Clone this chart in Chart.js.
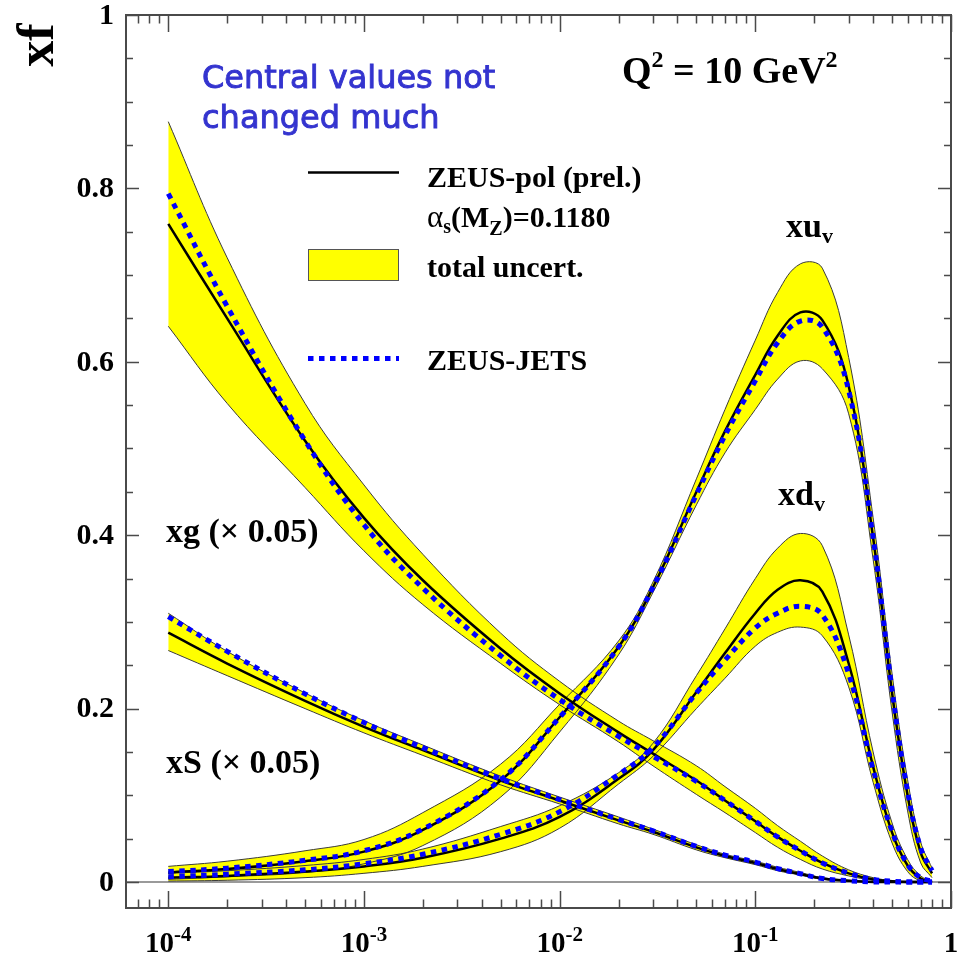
<!DOCTYPE html>
<html>
<head>
<meta charset="utf-8">
<script src="https://cdn.jsdelivr.net/npm/chart.js@4/dist/chart.umd.min.js"></script>
<style>
  html, body { margin: 0; padding: 0; background: #fff; }
  canvas { display: block; }
</style>
</head>
<body>
<canvas id="pdfChart" width="964" height="957"></canvas>
<script>
// x values shared by every curve
const xPoints = [1e-4, 2e-4, 5e-4, 1e-3, 2e-3, 5e-3, 1e-2, 2e-2, 3e-2, 5e-2, 7e-2,
                 0.1, 0.13, 0.17, 0.22, 0.3, 0.4, 0.5, 0.6, 0.7, 0.8];

// xu_v
const uvCentral = [0.011, 0.015, 0.024, 0.035, 0.060, 0.117, 0.190, 0.271, 0.340, 0.450, 0.520,
                   0.585, 0.630, 0.657, 0.648, 0.572, 0.397, 0.218, 0.100, 0.034, 0.010];
const uvUpper   = [0.018, 0.024, 0.036, 0.049, 0.080, 0.136, 0.205, 0.278, 0.346, 0.465, 0.545,
                   0.625, 0.680, 0.713, 0.708, 0.605, 0.420, 0.240, 0.118, 0.046, 0.016];
const uvLower   = [0.003, 0.006, 0.011, 0.021, 0.042, 0.098, 0.173, 0.262, 0.334, 0.435, 0.495,
                   0.545, 0.580, 0.601, 0.592, 0.540, 0.372, 0.196, 0.082, 0.022, 0.005];
const uvJets    = [0.012, 0.016, 0.025, 0.036, 0.061, 0.118, 0.190, 0.271, 0.340, 0.447, 0.515,
                   0.578, 0.622, 0.647, 0.640, 0.567, 0.397, 0.221, 0.104, 0.039, 0.013];

// xd_v
const dvCentral = [0.005, 0.007, 0.012, 0.018, 0.028, 0.050, 0.075, 0.119, 0.152, 0.219, 0.264,
                   0.310, 0.337, 0.348, 0.335, 0.252, 0.133, 0.057, 0.019, 0.004, 0.000];
const dvUpper   = [0.010, 0.013, 0.019, 0.026, 0.038, 0.064, 0.088, 0.126, 0.160, 0.238, 0.292,
                   0.350, 0.385, 0.402, 0.388, 0.285, 0.150, 0.068, 0.026, 0.007, 0.001];
const dvLower   = [0.001, 0.002, 0.005, 0.010, 0.018, 0.035, 0.062, 0.113, 0.145, 0.200, 0.235,
                   0.272, 0.288, 0.294, 0.284, 0.225, 0.115, 0.045, 0.012, 0.001, 0.000];
const dvJets    = [0.006, 0.009, 0.014, 0.021, 0.032, 0.055, 0.081, 0.124, 0.155, 0.218, 0.256,
                   0.293, 0.310, 0.318, 0.308, 0.240, 0.130, 0.058, 0.020, 0.005, 0.001];

// xg, scaled by 0.05
const gCentral = [0.759, 0.650, 0.509, 0.420, 0.348, 0.269, 0.2175, 0.1726, 0.148, 0.117, 0.094,
                  0.070, 0.052, 0.036, 0.022, 0.010, 0.003, 0.001, 0, 0, 0];
const gUpper   = [0.877, 0.720, 0.552, 0.458, 0.378, 0.287, 0.2315, 0.1856, 0.163, 0.134, 0.110,
                  0.085, 0.065, 0.047, 0.030, 0.014, 0.005, 0.0015, 0, 0, 0];
const gLower   = [0.641, 0.552, 0.455, 0.382, 0.320, 0.252, 0.2045, 0.1616, 0.134, 0.101, 0.080,
                  0.057, 0.040, 0.026, 0.015, 0.007, 0.002, 0.0005, 0, 0, 0];
const gJets    = [0.794, 0.664, 0.509, 0.412, 0.339, 0.261, 0.2105, 0.168, 0.145, 0.116, 0.094,
                  0.070, 0.052, 0.036, 0.022, 0.010, 0.003, 0.001, 0, 0, 0];

// xS, scaled by 0.05
const sCentral = [0.2875, 0.252, 0.209, 0.179, 0.152, 0.117, 0.094, 0.071, 0.058, 0.040, 0.030,
                  0.022, 0.015, 0.009, 0.004, 0.0015, 0, 0, 0, 0, 0];
const sUpper   = [0.310, 0.266, 0.218, 0.186, 0.158, 0.122, 0.098, 0.075, 0.061, 0.043, 0.032,
                  0.024, 0.017, 0.011, 0.005, 0.002, 0.0003, 0, 0, 0, 0];
const sLower   = [0.267, 0.238, 0.200, 0.172, 0.146, 0.112, 0.090, 0.067, 0.055, 0.037, 0.028,
                  0.020, 0.013, 0.008, 0.003, 0.001, 0, 0, 0, 0, 0];
const sJets    = [0.306, 0.266, 0.217, 0.184, 0.155, 0.119, 0.095, 0.072, 0.059, 0.041, 0.031,
                  0.023, 0.0155, 0.0095, 0.004, 0.0015, 0, 0, 0, 0, 0];

// axis ticks
const yTickValues = [0, 0.2, 0.4, 0.6, 0.8, 1];
const yTickLabels = ['0', '0.2', '0.4', '0.6', '0.8', '1'];
const yMinorStep = 0.05;
const xTickValues = [1e-4, 1e-3, 1e-2, 1e-1, 1];
const xTickLabels = [['10', '-4'], ['10', '-3'], ['10', '-2'], ['10', '-1'], ['1', '']];

const YELLOW = '#ffff00';
const EDGE = '#3a3a3a';
const FRAME = '#4a4a4a';
const BLUE = '#0000ff';
const SMOOTH = 0.4;

const serifB = s => 'bold ' + s + 'px "Liberation Serif", "Times New Roman", serif';
const serif = s => s + 'px "Liberation Serif", "Times New Roman", serif';

function toPoints(ys) {
    return xPoints.map((x, i) => ({ x: x, y: ys[i] }));
}

function band(upper, lower) {
    const common = { pointRadius: 0, borderColor: EDGE, borderWidth: 1, tension: SMOOTH, order: 3 };
    return [
        Object.assign({ data: toPoints(upper), fill: '+1', backgroundColor: YELLOW }, common),
        Object.assign({ data: toPoints(lower), fill: false }, common)
    ];
}

function central(ys) {
    return { data: toPoints(ys), fill: false, pointRadius: 0, borderColor: '#000',
             borderWidth: 2.5, tension: SMOOTH, order: 2 };
}

function jets(ys) {
    return { data: toPoints(ys), fill: false, pointRadius: 0, borderColor: BLUE,
             borderWidth: 5, borderDash: [5.5, 5.5], borderCapStyle: 'butt',
             tension: SMOOTH, order: 1 };
}

// draws a run of text pieces: [text, font, dy]
function drawRich(ctx, parts, x, y, align) {
    let total = 0;
    const widths = parts.map(p => { ctx.font = p[1]; const w = ctx.measureText(p[0]).width; total += w; return w; });
    let cx = align === 'center' ? x - total / 2 : (align === 'right' ? x - total : x);
    ctx.textAlign = 'left';
    parts.forEach((p, i) => {
        ctx.font = p[1];
        ctx.fillText(p[0], cx, y + (p[2] || 0));
        cx += widths[i];
    });
}

const zeroLine = {
    id: 'zeroLine',
    beforeDraw(chart) {
        const { ctx, chartArea, scales } = chart;
        const y0 = scales.y.getPixelForValue(0);
        ctx.save();
        ctx.strokeStyle = '#9a9a9a';
        ctx.lineWidth = 2;
        ctx.beginPath();
        ctx.moveTo(chartArea.left, y0);
        ctx.lineTo(chartArea.right, y0);
        ctx.stroke();
        ctx.restore();
    }
};

const frameAndText = {
    id: 'frameAndText',
    afterDraw(chart) {
        const { ctx, chartArea: a, scales } = chart;
        const xs = scales.x, ys = scales.y;
        ctx.save();

        // frame
        ctx.strokeStyle = FRAME;
        ctx.lineWidth = 2;
        ctx.strokeRect(a.left, a.top, a.right - a.left, a.bottom - a.top);

        // y ticks on both sides
        ctx.lineWidth = 1.5;
        ctx.beginPath();
        for (let v = 0; v <= 1.0001; v += yMinorStep) {
            const major = yTickValues.some(t => Math.abs(t - v) < 1e-6);
            const len = major ? 13 : 7;
            const py = Math.round(ys.getPixelForValue(v)) + 0.5;
            ctx.moveTo(a.left, py); ctx.lineTo(a.left + len, py);
            ctx.moveTo(a.right, py); ctx.lineTo(a.right - len, py);
        }
        // x ticks on top and bottom
        for (let e = -5; e <= 0; e++) {
            for (let m = 1; m <= 9; m++) {
                const v = m * Math.pow(10, e);
                if (v < xs.min * 0.999 || v > xs.max * 1.001) continue;
                const len = m === 1 ? 17 : 8.5;
                const px = Math.round(xs.getPixelForValue(v)) + 0.5;
                ctx.moveTo(px, a.bottom); ctx.lineTo(px, a.bottom - len);
                ctx.moveTo(px, a.top); ctx.lineTo(px, a.top + len);
            }
        }
        ctx.stroke();

        // tick labels
        ctx.fillStyle = '#000';
        ctx.textBaseline = 'middle';
        ctx.textAlign = 'right';
        ctx.font = serifB(30);
        yTickValues.forEach((v, i) => {
            ctx.fillText(yTickLabels[i], 114, ys.getPixelForValue(v) + 1);
        });
        ctx.textBaseline = 'alphabetic';
        xTickValues.forEach((v, i) => {
            const lab = xTickLabels[i];
            const parts = [[lab[0], serifB(29), 0]];
            if (lab[1]) parts.push([lab[1], serifB(21), -11]);
            drawRich(ctx, parts, xs.getPixelForValue(v), 952, 'center');
        });

        // axis title
        ctx.save();
        ctx.translate(53, 45);
        ctx.rotate(-Math.PI / 2);
        ctx.textAlign = 'center';
        ctx.font = serifB(52);
        ctx.fillText('xf', 0, 0);
        ctx.restore();

        // note in blue
        ctx.fillStyle = '#3434cf';
        ctx.strokeStyle = '#3434cf';
        ctx.lineWidth = 0.9;
        ctx.textAlign = 'left';
        ctx.font = '32px "DejaVu Sans", sans-serif';
        ctx.fillText('Central values not', 202, 88);
        ctx.strokeText('Central values not', 202, 88);
        ctx.fillText('changed much', 202, 128);
        ctx.strokeText('changed much', 202, 128);

        // scale of the plot
        ctx.fillStyle = '#000';
        drawRich(ctx, [['Q', serifB(38), 0], ['2', serifB(24), -16],
                       [' = 10 GeV', serifB(38), 0], ['2', serifB(24), -16]], 622, 83, 'left');

        // legend
        ctx.strokeStyle = '#000';
        ctx.lineWidth = 2.5;
        ctx.beginPath();
        ctx.moveTo(308, 172.5); ctx.lineTo(399, 172.5);
        ctx.stroke();
        ctx.fillStyle = YELLOW;
        ctx.fillRect(308, 249, 91, 32);
        ctx.strokeStyle = '#555';
        ctx.lineWidth = 1;
        ctx.strokeRect(308.5, 249.5, 90, 31);
        ctx.strokeStyle = BLUE;
        ctx.lineWidth = 5;
        ctx.setLineDash([5.5, 5.5]);
        ctx.beginPath();
        ctx.moveTo(308, 358.5); ctx.lineTo(399, 358.5);
        ctx.stroke();
        ctx.setLineDash([]);

        ctx.fillStyle = '#000';
        ctx.font = serifB(30);
        ctx.fillText('ZEUS-pol (prel.)', 427, 187);
        drawRich(ctx, [['\u03b1', serif(31), 0], ['s', serifB(20), 6], ['(M', serifB(30), 0],
                       ['Z', serifB(20), 8], [')=0.1180', serifB(30), 0]], 427, 227, 'left');
        ctx.font = serifB(30);
        ctx.fillText('total uncert.', 427, 277);
        ctx.fillText('ZEUS-JETS', 427, 370);

        // curve labels
        drawRich(ctx, [['xu', serifB(34), 0], ['v', serifB(22), 6]], 786, 237, 'left');
        drawRich(ctx, [['xd', serifB(34), 0], ['v', serifB(22), 6]], 778, 505, 'left');
        ctx.font = serifB(34);
        ctx.fillText('xg (\u00d7 0.05)', 166, 542);
        ctx.fillText('xS (\u00d7 0.05)', 166, 773);

        ctx.restore();
    }
};

const datasets = []
    .concat(band(gUpper, gLower), band(sUpper, sLower), band(uvUpper, uvLower), band(dvUpper, dvLower))
    .concat([central(gCentral), central(sCentral), central(uvCentral), central(dvCentral)])
    .concat([jets(gJets), jets(sJets), jets(uvJets), jets(dvJets)]);

new Chart(document.getElementById('pdfChart').getContext('2d'), {
    type: 'line',
    data: { datasets: datasets },
    options: {
        responsive: false,
        animation: false,
        events: [],
        layout: { padding: { left: 126, right: 13, top: 15, bottom: 49 } },
        scales: {
            x: { type: 'logarithmic', min: Math.pow(10, -4.216), max: 1, display: false },
            y: { type: 'linear', min: -0.03, max: 1, display: false }
        },
        plugins: {
            legend: { display: false },
            tooltip: { enabled: false },
            filler: { drawTime: 'beforeDatasetsDraw' }
        }
    },
    plugins: [zeroLine, frameAndText]
});
</script>
</body>
</html>
